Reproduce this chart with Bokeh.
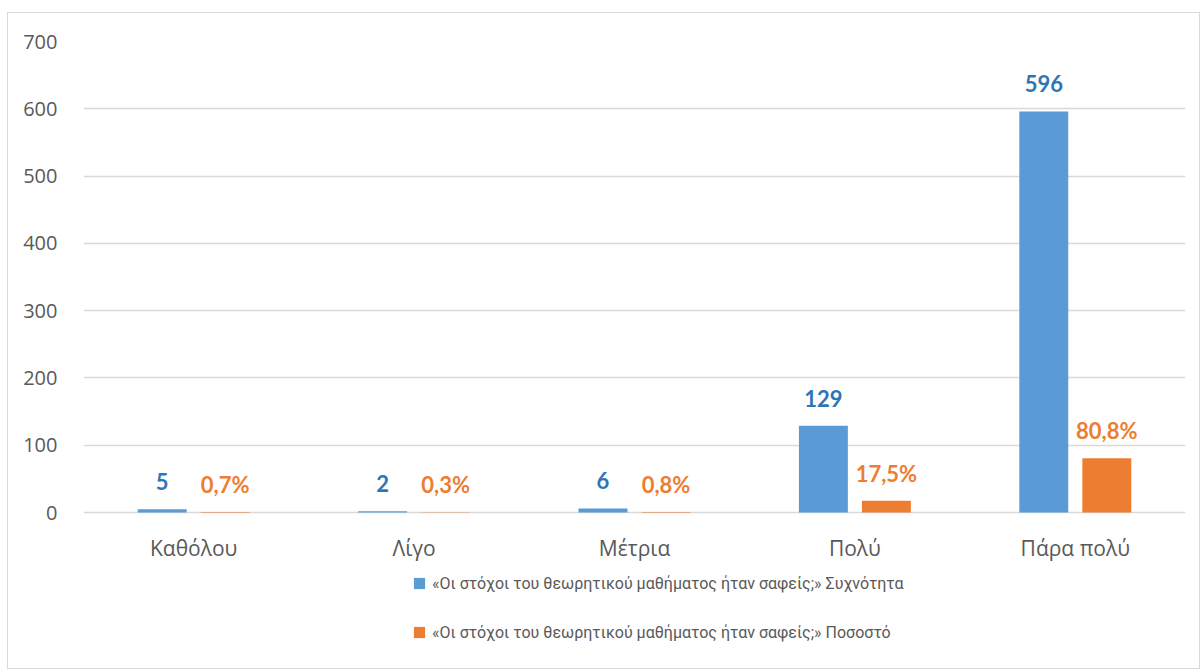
from bokeh.plotting import figure
from bokeh.models import FactorRange, ColumnDataSource, LabelSet, Legend, LegendItem, Range1d
from bokeh.transform import dodge
from bokeh.core.properties import value
from bokeh.embed import file_html
from bokeh.resources import INLINE

categories = ["Καθόλου", "Λίγο", "Μέτρια", "Πολύ", "Πάρα πολύ"]
frequency = [5, 2, 6, 129, 596]
percent = [0.7, 0.3, 0.8, 17.5, 80.8]
series_names = [
    "«Οι στόχοι του θεωρητικού μαθήματος ήταν σαφείς;» Συχνότητα",
    "«Οι στόχοι του θεωρητικού μαθήματος ήταν σαφείς;» Ποσοστό",
]
y_ticks = [0, 100, 200, 300, 400, 500, 600, 700]

BLUE = "#5B9BD5"
ORANGE = "#ED7D31"
BLUE_TXT = "#2E75B6"
GREY = "#595959"
GRID = "#D9D9D9"

src = ColumnDataSource(dict(
    cat=categories,
    freq=frequency,
    pct=percent,
    freq_txt=[str(v) for v in frequency],
    pct_txt=[f"{v:.1f}".replace(".", ",") + "%" for v in percent],
))

# frame: 0 at canvas y 499, 700 at canvas y 28; frame extended down to canvas y 648
TOP, ZERO, BOTTOM = 28, 499, 648
px_per_unit = (ZERO - TOP) / 700
y_bottom = -(BOTTOM - ZERO) / px_per_unit

p = figure(
    x_range=FactorRange(*categories, range_padding=0),
    y_range=Range1d(y_bottom, 700),
    width=1193, height=657,
    output_backend="svg", toolbar_location=None,
    min_border_left=75, min_border_right=16, min_border_top=TOP, min_border_bottom=657 - BOTTOM,
)
p.margin = (12, 0, 0, 7)
p.styles = {"border": "1px solid #D9D9D9"}
p.outline_line_color = None
p.background_fill_color = "white"
p.border_fill_color = "white"

off = 0.143
w = 0.222
r1 = p.vbar(x=dodge("cat", -off, range=p.x_range), top="freq", width=w, source=src,
            fill_color=BLUE, line_color=None)
r2 = p.vbar(x=dodge("cat", off, range=p.x_range), top="pct", width=w, source=src,
            fill_color=ORANGE, line_color=None)

lab1 = LabelSet(x=dodge("cat", -off, range=p.x_range), y="freq", text="freq_txt", source=src,
                text_align="center", text_baseline="alphabetic", y_offset=19,
                text_font=value("Lato"), text_font_style="bold", text_font_size="22px",
                text_color=BLUE_TXT)
lab2 = LabelSet(x=dodge("cat", off, range=p.x_range), y="pct", text="pct_txt", source=src,
                text_align="center", text_baseline="alphabetic", y_offset=19,
                text_font=value("Lato"), text_font_style="bold", text_font_size="22px",
                text_color=ORANGE)
p.add_layout(lab1)
p.add_layout(lab2)

p.yaxis.ticker = y_ticks
p.xaxis.fixed_location = 0
for ax in (p.xaxis, p.yaxis):
    ax.axis_line_color = None
    ax.major_tick_line_color = None
    ax.minor_tick_line_color = None
    ax.major_label_text_font = "Open Sans"
    ax.major_label_text_color = GREY
p.xaxis.major_label_text_font_size = "21px"
p.yaxis.major_label_text_font_size = "20px"
p.xaxis.major_label_standoff = 15
p.yaxis.major_label_standoff = 20
p.xgrid.grid_line_color = None
p.ygrid.grid_line_color = GRID
p.ygrid.grid_line_width = 1.5

legend = Legend(
    items=[LegendItem(label=series_names[0], renderers=[r1]),
           LegendItem(label=series_names[1], renderers=[r2])],
    location=(329, 17), orientation="vertical",
    glyph_width=14, glyph_height=14, label_height=24, spacing=25,
    label_standoff=6, padding=0, margin=0,
    border_line_color=None, background_fill_alpha=0,
    label_text_font="Roboto", label_text_font_size="16px", label_text_color=GREY,
)
p.add_layout(legend, "center")

open("out.html", "w").write(file_html(p, INLINE))
